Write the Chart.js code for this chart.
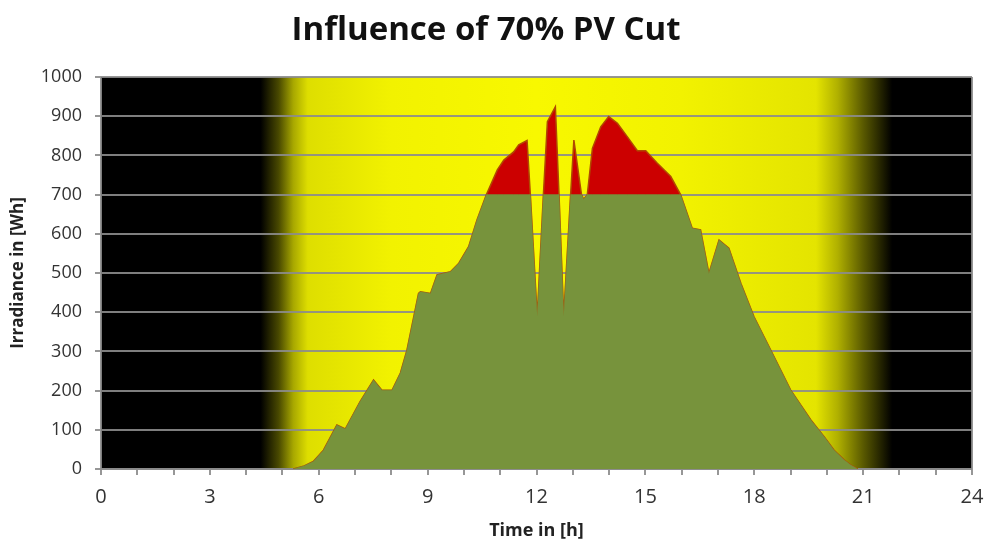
<!DOCTYPE html>
<html>
<head>
<meta charset="utf-8">
<script src="https://cdn.jsdelivr.net/npm/chart.js@4"></script>
<style>
  body { margin: 0; background: #fff; }
</style>
</head>
<body>
<canvas id="canvas-chart" width="987" height="544"></canvas>
<script>
'use strict'

// time of day in hours
let hours = [5.3, 5.6, 5.85, 6.13, 6.5, 6.73, 7.14, 7.51, 7.74, 8.02, 8.25, 8.43, 8.75, 8.8, 9.08,
    9.26, 9.63, 9.86, 10.13, 10.36, 10.62, 10.92, 11.1, 11.37, 11.51, 11.74, 11.83, 12.02, 12.19,
    12.3, 12.52, 12.62, 12.75, 12.94, 13.03, 13.24, 13.3, 13.4, 13.54, 13.77, 13.99, 14.23, 14.5,
    14.78, 15.01, 15.33, 15.7, 15.9, 15.97, 16.29, 16.52, 16.75, 17.03, 17.3, 17.63, 17.99, 18.45,
    19.0, 19.56, 19.93, 20.2, 20.48, 20.66, 20.85];

// full PV output (red)
let pvFull = [0, 8, 19, 48, 112, 102, 172, 227, 201, 201, 245, 303, 448, 452, 448,
    495, 503, 525, 567, 635, 700, 763, 788, 809, 827, 838, 700, 389, 700,
    886, 924, 700, 389, 700, 839, 700, 688, 700, 818, 873, 899, 882, 848,
    812, 812, 780, 746, 712, 700, 614, 610, 499, 584, 563, 474, 389, 304,
    202, 125, 82, 48, 23, 10, 0];

// output after the 70% cut (green)
let pvCut = [0, 8, 19, 48, 112, 102, 172, 227, 201, 201, 245, 303, 448, 452, 448,
    495, 503, 525, 567, 635, 700, 700, 700, 700, 700, 700, 700, 389, 700,
    700, 700, 700, 389, 700, 700, 700, 688, 700, 700, 700, 700, 700, 700,
    700, 700, 700, 700, 700, 700, 614, 610, 499, 584, 563, 474, 389, 304,
    202, 125, 82, 48, 23, 10, 0];

let yTicks = [0, 100, 200, 300, 400, 500, 600, 700, 800, 900, 1000];
let xLabelEvery = 3;

let gridGray = "rgba(140, 140, 140, 0.9)";

// black night / yellow day background behind the plot
let dayBackground = {
    id: "dayBackground",
    beforeDraw(chart) {
        let area = chart.chartArea;
        let x = chart.scales.x;
        let ctx = chart.ctx;
        let grad = ctx.createLinearGradient(area.left, 0, area.right, 0);
        let stops = [
            [4.4, "#000000"], [4.9, "#4a4a00"], [5.3, "#a8a800"], [5.7, "#dede00"],
            [8, "#f2f200"], [12, "#f8f800"], [16, "#f2f200"], [19.7, "#e4e400"],
            [20.3, "#b0b000"], [21.0, "#5a5a00"], [21.8, "#000000"]
        ];
        stops.forEach(function (s) {
            let p = (x.getPixelForValue(s[0]) - area.left) / (area.right - area.left);
            grad.addColorStop(Math.min(1, Math.max(0, p)), s[1]);
        });
        ctx.save();
        ctx.fillStyle = grad;
        ctx.fillRect(area.left, area.top, area.right - area.left, area.bottom - area.top);
        ctx.restore();
    }
};

let chart = document.getElementById("canvas-chart").getContext("2d");

let chart1 = new Chart(chart, {
    type: "line",
    data: {
        datasets: [
            {
                label: "Cut PV",
                data: hours.map(function (h, i) { return { x: h, y: pvCut[i] }; }),
                backgroundColor: "#77933c",
                borderColor: "#77933c",
                borderWidth: 0.5,
                fill: "origin",
                pointRadius: 0,
                tension: 0,
                order: 1,
            },
            {
                label: "Full PV",
                data: hours.map(function (h, i) { return { x: h, y: pvFull[i] }; }),
                backgroundColor: "#cc0000",
                borderColor: "#b04a00",
                borderWidth: 1.5,
                fill: "origin",
                pointRadius: 0,
                tension: 0,
                order: 2,
            },
        ],
    },
    plugins: [dayBackground],
    options: {
        responsive: false,
        animation: false,
        devicePixelRatio: 1,
        layout: { padding: { left: 0, right: 15, top: 0, bottom: 0 } },
        plugins: {
            legend: { display: false },
            tooltip: { enabled: false },
            title: {
                display: true,
                text: "Influence of 70% PV Cut",
                color: "#111",
                font: { family: "'Open Sans'", size: 33, weight: "bold", lineHeight: 1.2 },
                padding: { top: 11, bottom: 26.4 },
            },
        },
        scales: {
            x: {
                type: "linear",
                min: 0,
                max: 24,
                afterFit: function (scale) {
                    scale.height = 75;
                    scale.paddingLeft = 0;
                    scale.paddingRight = 0;
                },
                ticks: {
                    stepSize: 1,
                    autoSkip: false,
                    maxRotation: 0,
                    padding: 10,
                    color: "#333",
                    font: { family: "'Open Sans'", size: 20 },
                    callback: function (v) { return v % xLabelEvery === 0 ? String(v) : ""; },
                },
                grid: {
                    drawOnChartArea: true,
                    color: function (ctx) { return ctx.tick && ctx.tick.value === 24 ? gridGray : "rgba(0,0,0,0)"; },
                    tickColor: gridGray,
                    tickLength: 6,
                    lineWidth: 2,
                },
                border: { color: gridGray, width: 2 },
                title: {
                    display: true,
                    text: "Time in [h]",
                    color: "#222",
                    font: { family: "'Open Sans'", size: 18, weight: "bold", lineHeight: 1.2 },
                    padding: { top: 0, bottom: 2 },
                },
            },
            y: {
                min: 0,
                max: 1000,
                afterFit: function (scale) { scale.width = 101; },
                afterBuildTicks: function (scale) {
                    scale.ticks = yTicks.map(function (v) { return { value: v }; });
                },
                ticks: {
                    padding: 13,
                    color: "#333",
                    font: { family: "'Open Sans'", size: 18 },
                    callback: function (v) { return String(v); },
                },
                grid: {
                    color: gridGray,
                    tickColor: gridGray,
                    tickLength: 6,
                    lineWidth: 2,
                },
                border: { color: gridGray, width: 2 },
                title: {
                    display: true,
                    text: "Irradiance in [Wh]",
                    color: "#222",
                    font: { family: "'Open Sans'", size: 17, weight: "bold", lineHeight: 1.2 },
                    padding: { top: 8, bottom: 0 },
                },
            },
        },
    },
});
</script>
</body>
</html>
